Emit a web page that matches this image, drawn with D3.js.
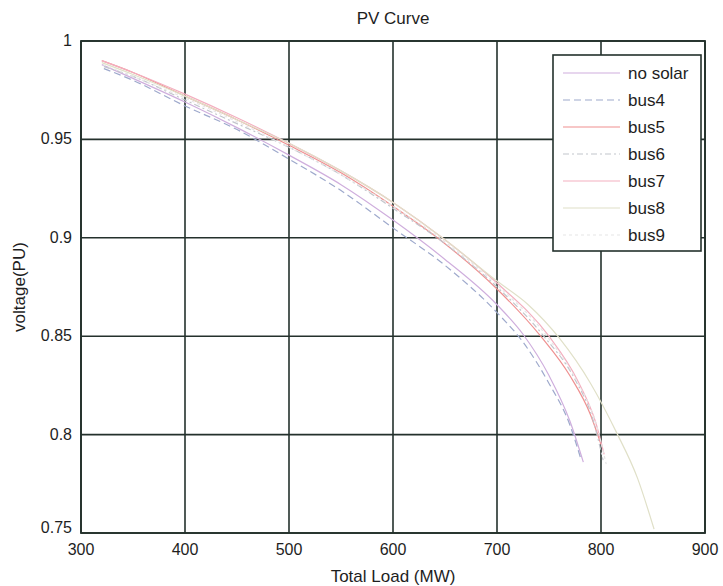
<!DOCTYPE html>
<html>
<head>
<meta charset="utf-8">
<script src="https://d3js.org/d3.v7.min.js"></script>
<style>
  body { margin: 0; background: #fff; }
  text { font-family: "Liberation Sans", Arial, sans-serif; fill: #1e1e1e; }
</style>
</head>
<body>
<div id="chart"></div>
<script>
// series
var seriesNames = ["no solar", "bus4", "bus5", "bus6", "bus7", "bus8", "bus9"];
var seriesColors = ["#cfaedd", "#9ea9cc", "#ef9090", "#c2c5cc", "#f3afbf", "#e0e0c8", "#e6e6e6"];
var seriesDash = ["", "7,4", "", "6,3,2,3", "", "", "3,3"];

var loadNoSolar = [320, 350, 400, 450, 500, 550, 600, 650, 700, 725, 750, 770, 783];
var vNoSolar = [0.988, 0.981, 0.969, 0.956, 0.942, 0.927, 0.909, 0.889, 0.866, 0.851, 0.830, 0.807, 0.786];

var loadBus4 = [322, 350, 400, 450, 500, 550, 600, 650, 700, 725, 750, 770, 781];
var vBus4 = [0.986, 0.980, 0.967, 0.955, 0.940, 0.924, 0.905, 0.886, 0.862, 0.847, 0.826, 0.805, 0.787];

var loadBus5 = [320, 350, 400, 450, 500, 550, 600, 650, 700, 742, 770, 790, 800];
var vBus5 = [0.990, 0.984, 0.972, 0.960, 0.947, 0.933, 0.916, 0.897, 0.874, 0.850, 0.830, 0.810, 0.795];

var loadBus6 = [322, 350, 400, 450, 500, 550, 600, 650, 700, 745, 775, 792, 802];
var vBus6 = [0.987, 0.982, 0.970, 0.958, 0.946, 0.932, 0.915, 0.897, 0.875, 0.850, 0.828, 0.808, 0.787];

var loadBus7 = [320, 350, 400, 450, 500, 550, 600, 650, 700, 750, 778, 795, 803];
var vBus7 = [0.990, 0.984, 0.973, 0.961, 0.948, 0.934, 0.918, 0.899, 0.877, 0.850, 0.827, 0.806, 0.790];

var loadBus8 = [320, 350, 400, 450, 500, 550, 600, 650, 700, 730, 760, 790, 815, 835, 851];
var vBus8 = [0.989, 0.983, 0.972, 0.960, 0.948, 0.934, 0.918, 0.899, 0.878, 0.866, 0.849, 0.826, 0.801, 0.778, 0.752];

var loadBus9 = [321, 350, 400, 450, 500, 550, 600, 650, 700, 748, 778, 795, 805];
var vBus9 = [0.988, 0.982, 0.971, 0.959, 0.946, 0.932, 0.916, 0.898, 0.876, 0.850, 0.826, 0.806, 0.785];

var xTicks = [300, 400, 500, 600, 700, 800, 900];
var yTicks = [0.75, 0.8, 0.85, 0.9, 0.95, 1];
var yTickLabels = ["0.75", "0.8", "0.85", "0.9", "0.95", "1"];

var allLoads = [loadNoSolar, loadBus4, loadBus5, loadBus6, loadBus7, loadBus8, loadBus9];
var allVolts = [vNoSolar, vBus4, vBus5, vBus6, vBus7, vBus8, vBus9];

var w = 723;
var h = 586;
var plotL = 81, plotR = 705, plotT = 41, plotB = 533;
var ink = "#24312c";

var svg = d3
  .select("#chart")
  .append("svg")
  .attr("width", w)
  .attr("height", h);

svg.append("rect").attr("width", w).attr("height", h).attr("fill", "#fff");

var xScale = d3.scaleLinear().domain([300, 900]).range([plotL, plotR]);
var yScale = d3.scaleLinear().domain([0.75, 1]).range([plotB, plotT]);

// grid
svg
  .append("g")
  .selectAll("line")
  .data(xTicks)
  .enter()
  .append("line")
  .attr("x1", function(d) { return xScale(d); })
  .attr("x2", function(d) { return xScale(d); })
  .attr("y1", plotT)
  .attr("y2", plotB)
  .attr("stroke", ink)
  .attr("stroke-width", 1.6);

svg
  .append("g")
  .selectAll("line")
  .data(yTicks)
  .enter()
  .append("line")
  .attr("x1", plotL)
  .attr("x2", plotR)
  .attr("y1", function(d) { return yScale(d); })
  .attr("y2", function(d) { return yScale(d); })
  .attr("stroke", ink)
  .attr("stroke-width", 1.6);

// curves
var line = d3
  .line()
  .x(function(d) { return xScale(d[0]); })
  .y(function(d) { return yScale(d[1]); })
  .curve(d3.curveMonotoneX);

seriesNames.forEach(function(name, i) {
  var pts = allLoads[i].map(function(x, j) { return [x, allVolts[i][j]]; });
  svg
    .append("path")
    .datum(pts)
    .attr("d", line)
    .attr("fill", "none")
    .attr("stroke", seriesColors[i])
    .attr("stroke-width", 1.2)
    .attr("stroke-dasharray", seriesDash[i]);
});

// axes box
svg
  .append("rect")
  .attr("x", plotL)
  .attr("y", plotT)
  .attr("width", plotR - plotL)
  .attr("height", plotB - plotT)
  .attr("fill", "none")
  .attr("stroke", ink)
  .attr("stroke-width", 1.8);

// tick labels
svg
  .append("g")
  .selectAll("text")
  .data(xTicks)
  .enter()
  .append("text")
  .attr("x", function(d) { return xScale(d); })
  .attr("y", plotB + 22)
  .attr("text-anchor", "middle")
  .attr("font-size", 16)
  .text(function(d) { return d; });

svg
  .append("g")
  .selectAll("text")
  .data(yTicks)
  .enter()
  .append("text")
  .attr("x", plotL - 9)
  .attr("y", function(d) { return yScale(d) + (d === 0.75 ? 0 : 5); })
  .attr("text-anchor", "end")
  .attr("font-size", 16)
  .text(function(d, i) { return yTickLabels[i]; });

// titles
svg
  .append("text")
  .attr("x", (plotL + plotR) / 2)
  .attr("y", 24)
  .attr("text-anchor", "middle")
  .attr("font-size", 17)
  .text("PV Curve");

svg
  .append("text")
  .attr("x", (plotL + plotR) / 2)
  .attr("y", 582)
  .attr("text-anchor", "middle")
  .attr("font-size", 17)
  .text("Total Load (MW)");

svg
  .append("text")
  .attr("transform", "translate(25," + (plotT + plotB) / 2 + ")rotate(-90)")
  .attr("text-anchor", "middle")
  .attr("font-size", 17)
  .text("voltage(PU)");

// legend
var legX = 553, legY = 55, legW = 148, legH = 196;
var legend = svg.append("g");
legend
  .append("rect")
  .attr("x", legX)
  .attr("y", legY)
  .attr("width", legW)
  .attr("height", legH)
  .attr("fill", "#fff")
  .attr("stroke", ink)
  .attr("stroke-width", 1.6);

seriesNames.forEach(function(name, i) {
  var cy = legY + 18 + i * 27;
  legend
    .append("line")
    .attr("x1", legX + 10)
    .attr("x2", legX + 67)
    .attr("y1", cy)
    .attr("y2", cy)
    .attr("stroke", seriesColors[i])
    .attr("stroke-width", 1.2)
    .attr("stroke-dasharray", seriesDash[i]);
  legend
    .append("text")
    .attr("x", legX + 75)
    .attr("y", cy + 6)
    .attr("font-size", 17)
    .text(name);
});
</script>
</body>
</html>
